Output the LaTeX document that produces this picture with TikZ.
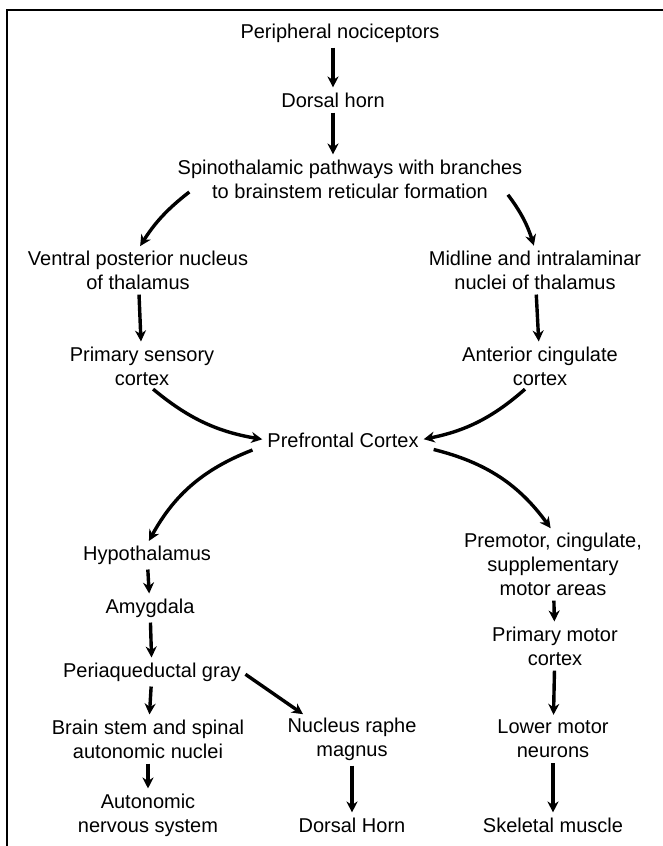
\documentclass[tikz,border=0pt]{standalone}
\usepackage{fontspec}
\setmainfont{Liberation Sans}
\usetikzlibrary{arrows.meta}

\begin{document}
\begin{tikzpicture}[x=1pt, y=-1pt,
    every node/.style={font=\fontsize{20}{24}\selectfont, align=center, inner sep=1pt},
    flow/.style={-{Stealth[length=11pt, width=11pt]}, line width=3.4pt, shorten <=4pt, shorten >=4pt}]
        \useasboundingbox (0, 0) rectangle (663, 846);
        \draw[line width=1.6pt] (663, 10) -- (7, 10) -- (7, 846);

        \node (noci) at (340, 33) {Peripheral nociceptors};
        \node (dorsal) at (333, 100) {Dorsal horn};
        \node (spino) at (350, 179) {Spinothalamic pathways with branches\\to brainstem reticular formation};
        \node (vpn) at (138, 270) {Ventral posterior nucleus\\of thalamus};
        \node (midline) at (535, 270) {Midline and intralaminar\\nuclei of thalamus};
        \node (sensory) at (142, 366) {Primary sensory\\cortex};
        \node (cingulate) at (540, 366) {Anterior cingulate\\cortex};
        \node (prefrontal) at (343, 440) {Prefrontal Cortex};

        \node (hypo) at (147, 555) {Hypothalamus};
        \node (amyg) at (150, 608) {Amygdala};
        \node (pag) at (152, 672) {Periaqueductal gray};
        \node (brainstem) at (148, 739) {Brain stem and spinal\\autonomic nuclei};
        \node (raphe) at (352, 739) {Nucleus raphe\\magnus};
        \node (ans) at (148, 815) {Autonomic\\nervous system};
        \node (dorsal2) at (352, 825) {Dorsal Horn};

        \node (premotor) at (553, 564) {Premotor, cingulate,\\supplementary\\motor areas};
        \node (motor) at (555, 646) {Primary motor\\cortex};
        \node (lmn) at (553, 739) {Lower motor\\neurons};
        \node (muscle) at (553, 825) {Skeletal muscle};

        % top column
        \draw[flow] (noci.south -| dorsal) -- (dorsal.north);
        \draw[flow] (dorsal.south) -- (dorsal |- spino.north);

        % upper ring
        \draw[flow] ([shift={(16,-10)}]spino.south west) to[bend right=10] (vpn.north);
        \draw[flow] ([shift={(-18,-8)}]spino.south east) to[bend left=10] (midline.north);
        \draw[flow] (vpn) -- (sensory);
        \draw[flow] (midline) -- (cingulate);
        \draw[flow] ([xshift=8pt]sensory.south) to[bend right=15] (prefrontal.west);
        \draw[flow] ([xshift=-12pt]cingulate.south) to[bend left=15] (prefrontal.east);

        % lower ring
        \draw[flow] ([xshift=-10pt]prefrontal.south west) to[bend right=20] (hypo.north);
        \draw[flow] ([xshift=10pt]prefrontal.south east) to[bend left=20] (premotor.north);

        \foreach \a/\b in {hypo/amyg, amyg/pag, pag/brainstem, brainstem/ans, raphe/dorsal2,
                           premotor/motor, motor/lmn, lmn/muscle} {
            \draw[flow] (\a) -- (\b);
        }
        \draw[flow] (pag.east) -- ([xshift=20pt]raphe.north west);
    \end{tikzpicture}
\end{document}
